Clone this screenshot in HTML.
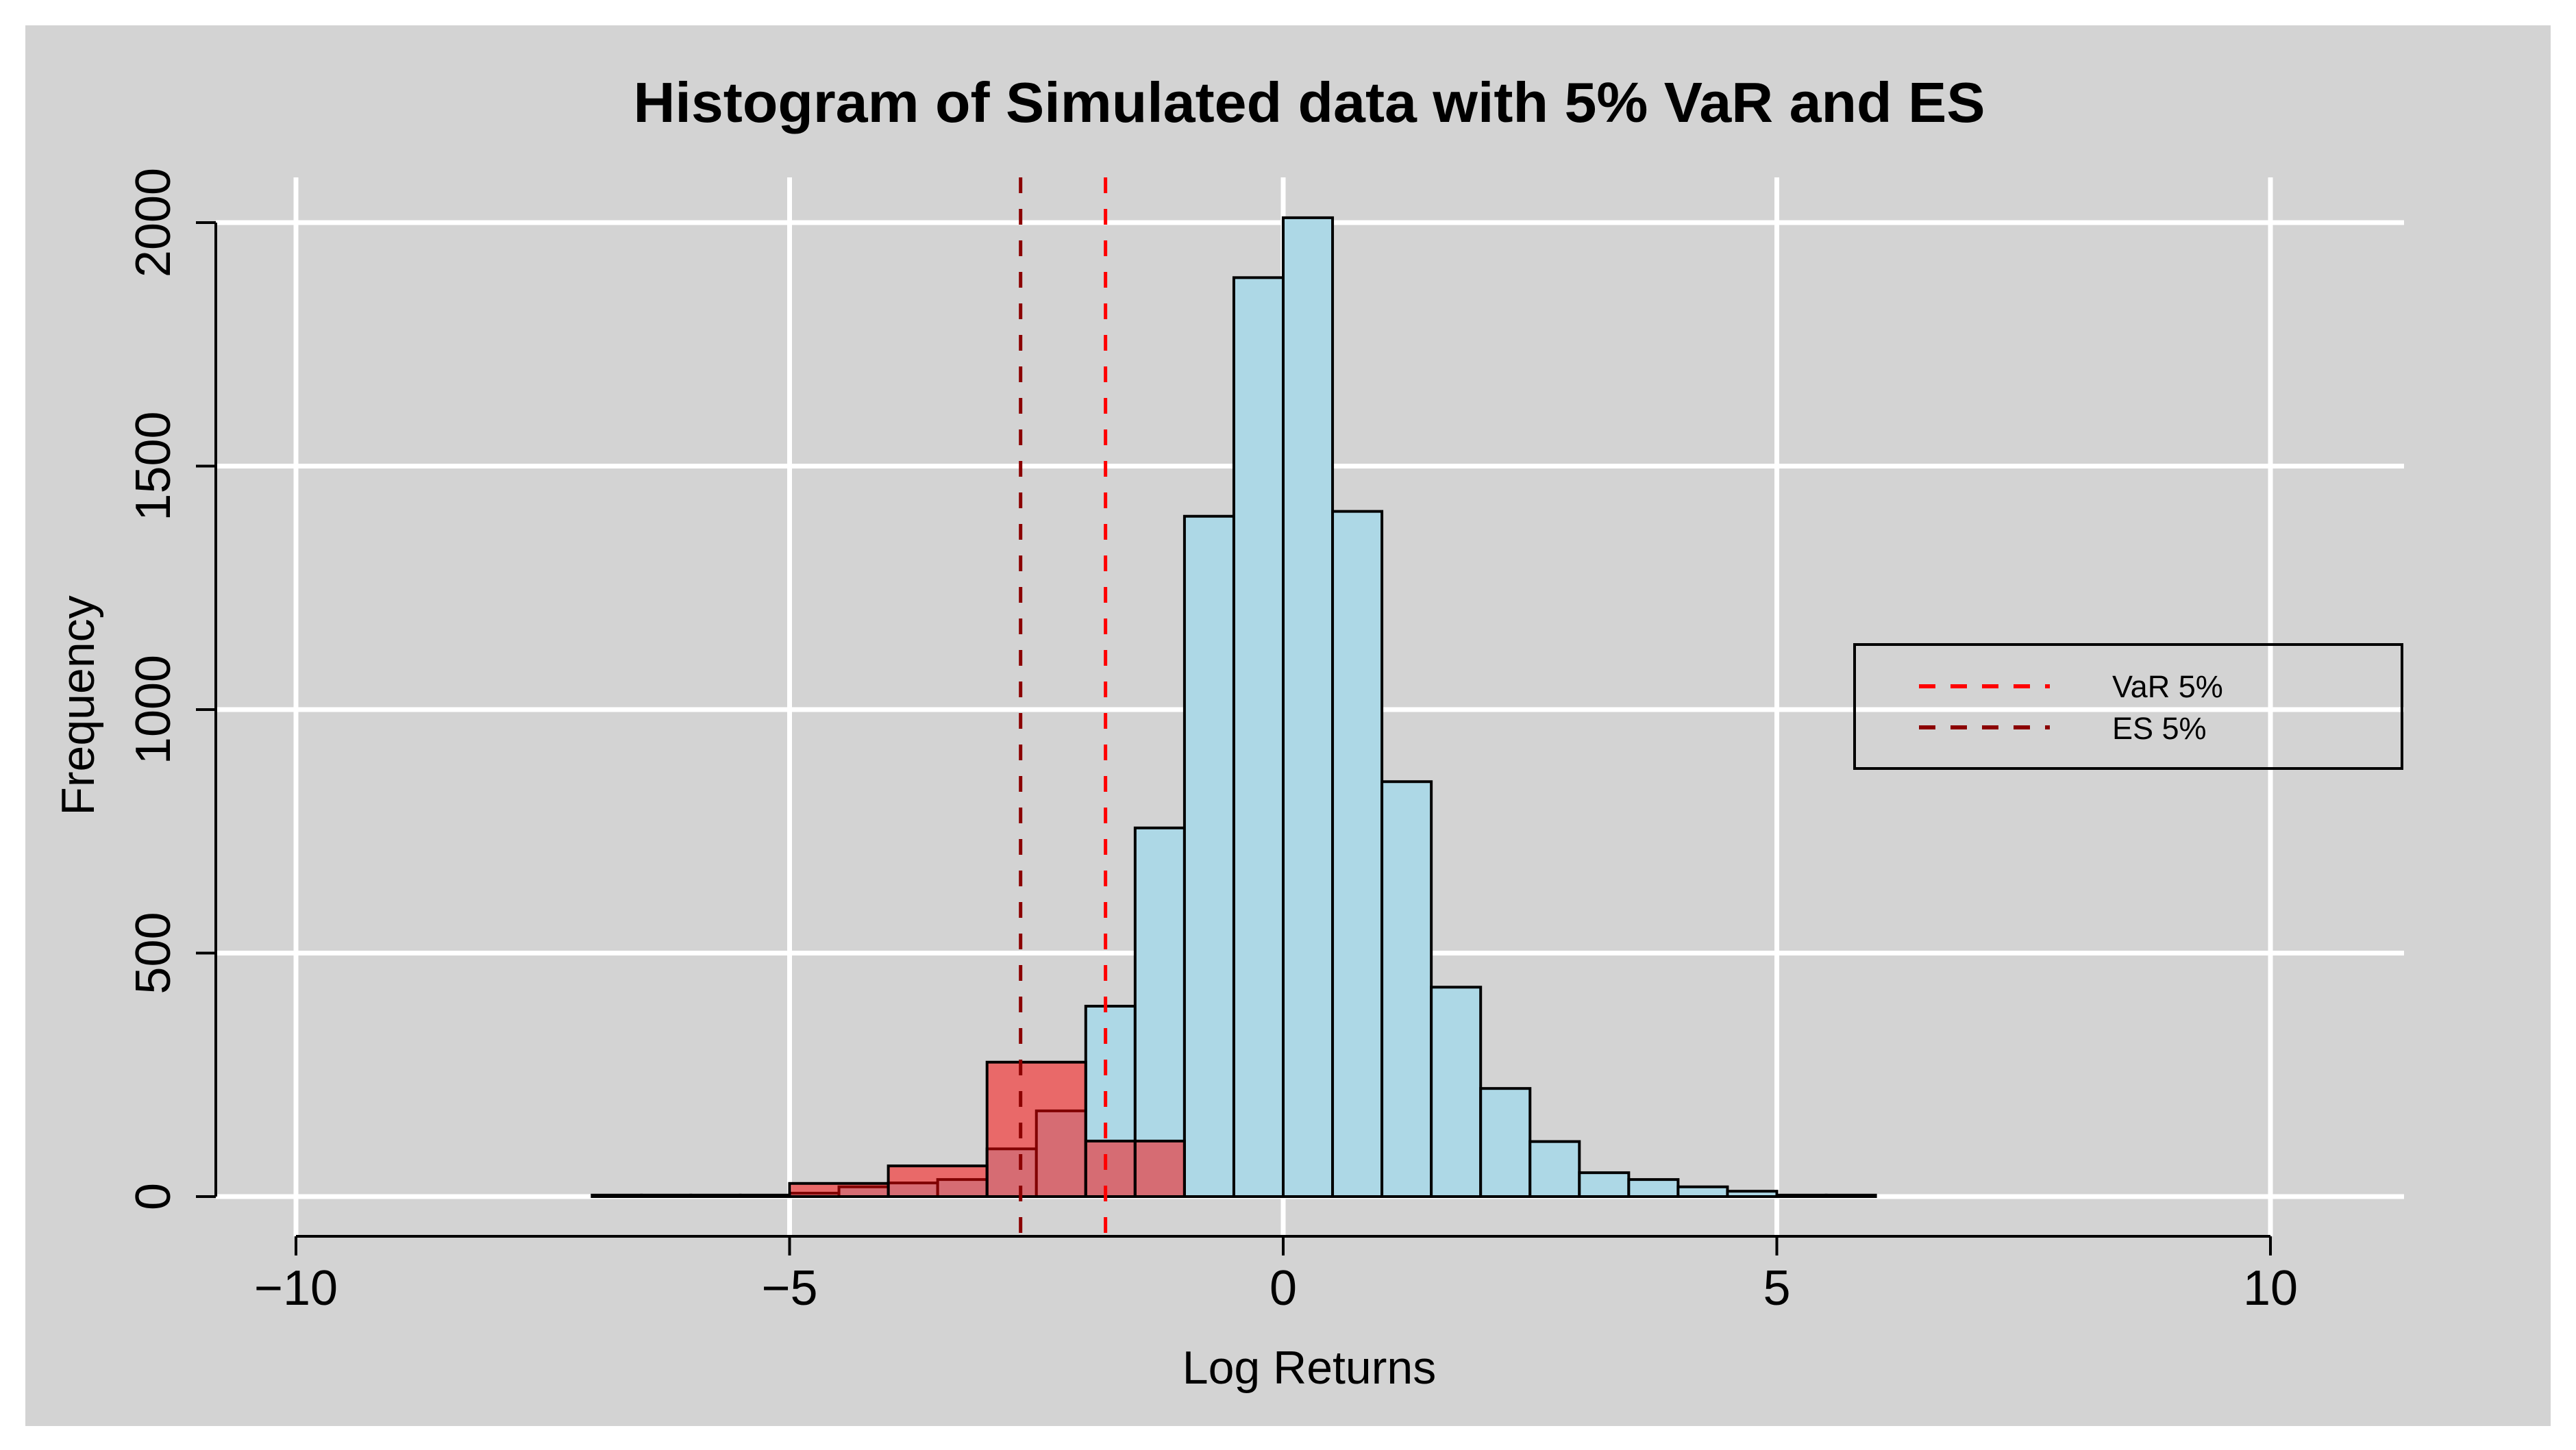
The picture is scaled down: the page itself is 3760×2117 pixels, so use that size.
<!DOCTYPE html>
<html><head><meta charset="utf-8"><style>
html,body{margin:0;padding:0;background:#fff;}
svg{display:block;}
text{font-family:"Liberation Sans",Arial,sans-serif;fill:#000;}
</style></head><body>
<svg id="chart" width="3760" height="2117" viewBox="0 0 3760 2117" xmlns="http://www.w3.org/2000/svg">
<rect x="37" y="37" width="3686" height="2045" fill="#d3d3d3"/>
<g id="grid"></g>
<g id="bars"></g>
<g id="tailbars"></g>
<g id="vlines"></g>
<g id="axes"></g>
<text x="1911" y="178" text-anchor="middle" font-size="83" font-weight="bold" textLength="1973" lengthAdjust="spacingAndGlyphs">Histogram of Simulated data with 5% VaR and ES</text>
<text x="1911" y="2020" text-anchor="middle" font-size="68">Log Returns</text>
<text x="0" y="0" transform="translate(137,1030) rotate(-90)" text-anchor="middle" font-size="68">Frequency</text>
<g>
<rect x="2707" y="941" width="799" height="181" fill="none" stroke="#000" stroke-width="4"/>
<line x1="2801" y1="1002" x2="2992" y2="1002" stroke="#ff0000" stroke-width="6" stroke-dasharray="24,22"/>
<text x="3083" y="1018" font-size="45">VaR 5%</text>
<line x1="2801" y1="1062" x2="2992" y2="1062" stroke="#8b0000" stroke-width="6" stroke-dasharray="24,22"/>
<text x="3083" y="1079" font-size="45">ES 5%</text>
</g>
</svg>
<script>
const binStarts = [-7,-6.5,-6,-5.5,-5,-4.5,-4,-3.5,-3,-2.5,-2,-1.5,-1,-0.5,0,0.5,1,1.5,2,2.5,3,3.5,4,4.5,5,5.5];
const binCounts = [3,3,3,3,7,20,28,35,98,176,391,757,1397,1887,2010,1407,852,430,222,113,49,35,20,11,3,3];
const binWidth = 0.5;
const tailStarts = [-5,-4,-3,-2,-1.5];
const tailEnds = [-4,-3,-2,-1.5,-1];
const tailCounts = [27,63,276,114,114];
const varValue = -1.80;
const esValue = -2.66;
const xTicks = [-10,-5,0,5,10];
const xTickLabels = ["\u221210","\u22125","0","5","10"];
const yTicks = [0,500,1000,1500,2000];
const yTickLabels = ["0","500","1000","1500","2000"];

const NS = "http://www.w3.org/2000/svg";
const X = v => 1873 + v * 144.1;
const Y = v => 1747 - v * 0.711;
function mk(tag, attrs, parent){
  const el = document.createElementNS(NS, tag);
  for (const k in attrs) el.setAttribute(k, attrs[k]);
  parent.appendChild(el);
  return el;
}
const grid = document.getElementById('grid');
const bars = document.getElementById('bars');
const tail = document.getElementById('tailbars');
const vl = document.getElementById('vlines');
const axes = document.getElementById('axes');

xTicks.forEach((t,i)=>{
  const g = mk('line',{x1:X(t),x2:X(t),y1:259,y2:1805,stroke:'#fff','stroke-width':7},grid);
  
  
});
yTicks.forEach((t,i)=>{
  const g = mk('line',{x1:315,x2:3509,y1:Y(t),y2:Y(t),stroke:'#fff','stroke-width':7},grid);
  
  
});

binStarts.forEach((s,i)=>{
  const r = mk('rect',{x:X(s),y:Y(binCounts[i]),width:X(s+binWidth)-X(s),height:Y(0)-Y(binCounts[i]),fill:'#add8e6',stroke:'#000','stroke-width':4},bars);
  
  
});
tailStarts.forEach((s,i)=>{
  const r = mk('rect',{x:X(s),y:Y(tailCounts[i]),width:X(tailEnds[i])-X(s),height:Y(0)-Y(tailCounts[i]),fill:'rgba(255,0,0,0.5)',stroke:'#000','stroke-width':4},tail);
  
  
});

const es = mk('line',{x1:X(esValue),x2:X(esValue),y1:259,y2:1805,stroke:'#8b0000','stroke-width':5,'stroke-dasharray':'23,23'},vl);


const vr = mk('line',{x1:X(varValue),x2:X(varValue),y1:259,y2:1805,stroke:'#ff0000','stroke-width':5,'stroke-dasharray':'23,23'},vl);



const xa = mk('line',{x1:X(xTicks[0]),x2:X(xTicks[xTicks.length-1]),y1:1805,y2:1805,stroke:'#000','stroke-width':4},axes);


xTicks.forEach((t,i)=>{
  const tk = mk('line',{x1:X(t),x2:X(t),y1:1805,y2:1833,stroke:'#000','stroke-width':4},axes);
  
  
  const tx = mk('text',{x:X(t),y:1905,'text-anchor':'middle','font-size':72},axes);
  tx.textContent = xTickLabels[i];
  
  
});
const ya = mk('line',{x1:315,x2:315,y1:Y(yTicks[0]),y2:Y(yTicks[yTicks.length-1]),stroke:'#000','stroke-width':4},axes);


yTicks.forEach((t,i)=>{
  const tk = mk('line',{x1:286,x2:315,y1:Y(t),y2:Y(t),stroke:'#000','stroke-width':4},axes);
  
  
  const tx = mk('text',{x:0,y:0,transform:`translate(248,${Y(t)}) rotate(-90)`,'text-anchor':'middle','font-size':72},axes);
  tx.textContent = yTickLabels[i];
  
  
});
</script>
</body></html>
